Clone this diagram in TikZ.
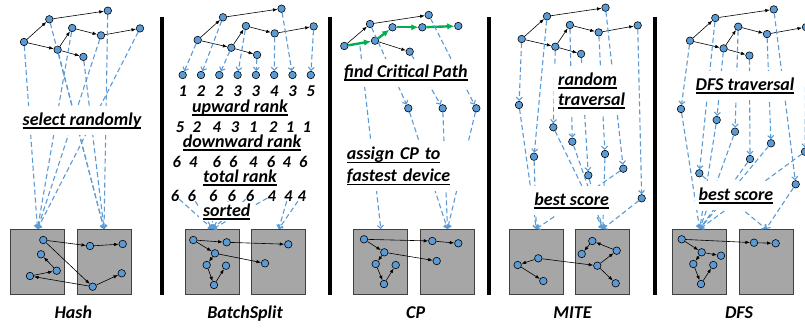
\documentclass[tikz,border=0pt]{standalone}
\usepackage{fontspec}
\setmainfont{Carlito}
\usepackage{tikz}
\usetikzlibrary{arrows.meta}
\definecolor{dotblue}{HTML}{5B9BD5}
\definecolor{cpgreen}{HTML}{00B050}
\definecolor{boxgray}{HTML}{A6A6A6}
\definecolor{boxline}{HTML}{404040}
\newcommand{\uln}[1]{\leavevmode\setbox0=\hbox{#1}\rlap{\rule[-3.5pt]{\wd0}{1.3pt}}\box0}
\tikzset{
  dot/.style={circle,draw=black,fill=dotblue,line width=0.6pt,minimum size=7.5pt,inner sep=0pt},
  edge/.style={-{Latex[length=4.5pt,width=3.5pt]},line width=0.6pt},
  cpedge/.style={-{Latex[length=7pt,width=6.5pt]},line width=2.4pt,cpgreen},
  move/.style={dotblue,line width=1.1pt,dash pattern=on 5pt off 3pt,-{Straight Barb[length=3pt,width=6pt]}},
  device/.style={draw=boxline,fill=boxgray,line width=1pt,minimum width=54pt,minimum height=65pt,inner sep=0pt},
  stagelabel/.style={font=\fontsize{18}{21.5}\selectfont\bfseries\itshape,fill=white,inner xsep=4pt,inner ysep=6pt,anchor=base},
  algname/.style={font=\fontsize{18}{21.5}\selectfont\bfseries\itshape,anchor=base},
  rank/.style={font=\fontsize{18}{21.5}\selectfont\bfseries\itshape,inner sep=0pt,anchor=base},
  digit/.style={font=\fontsize{16.5}{19}\selectfont\bfseries\itshape,inner sep=0pt,anchor=base},
  divider/.style={line width=4pt}
}

\begin{document}
\begin{tikzpicture}[x=1pt,y=-1pt]
                \clip (0,0) rectangle (805,329);
                %dividers
                \foreach \x in {161.5,329.5,489,654.7}
                    \draw[divider] (\x,17) -- (\x,295);
                %devices
                \foreach \d/\x in {HA/37.5,HB/104,BA/212.5,BB/278.7,CA/380.8,CB/447.5,MA/536.3,MB/602.8,DA/699.7,DB/766}
                    \node[device] (\d) at (\x,262) {};
                %task graphs
                \foreach \p/\gx/\gy in {H/24/42,B/197.7/40,M/521.7/39,D/690/40.7}{
                    \begin{scope}[shift={(\gx,\gy)}]
                        \foreach \n/\dx/\dy in {1/0/0,2/25.3/-22.7,3/83.8/-31.3,4/48.2/-14,5/77/-6.6,6/116/-13.6,7/33.6/7.7,8/59.4/14.9}
                            \node[dot] (\p\n) at (\dx,\dy) {};
                    \end{scope}
                    \foreach \a/\b in {1/2,2/3,1/7,7/4,7/8,4/5,5/6}
                        \draw[edge] (\p\a) -- (\p\b);
                }
                \foreach \n/\x/\y in {1/344.3/46,2/370/24,3/428.7/15,4/392.5/27.3,5/422.3/27.3,6/458.3/26,7/375/40.7,8/409.7/51.7}
                    \node[dot] (C\n) at (\x,\y) {};
                \draw[edge] (C1) -- (C2);
                \draw[edge] (C2) -- (C3);
                \draw[edge] (C7) -- (C8);
                \draw[cpedge] (C1) -- coordinate (cpm) (C7);
                \draw[cpedge] (C7) -- (C4);
                \draw[cpedge] (C4) -- (C5);
                \draw[cpedge] (C5) -- (C6);

                %Hash
                \foreach \n in {1,4,5,6}
                    \draw[move] (H\n) -- (HA.north);
                \foreach \n in {2,3,7,8}
                    \draw[move] (H\n) -- (HB.north);
                \node[stagelabel] (sel) at (82,125) {\uln{select randomly}};

                %BatchSplit
                \foreach \n/\x in {1/182.7,2/201,3/219.3,4/237.6,5/255.9,6/274.2,7/292.5,8/310.8}
                    \node[dot] (N\n) at (\x,75) {};
                \foreach \a/\b in {1/1,2/2,7/3,4/4,8/5,5/6,3/7,6/8}
                    \draw[move] (B\a) -- (N\b);
                \node[rank] (upl) at (240,112) {\uln{upward rank}};
                \node[rank] (dnl) at (242,147) {\uln{downward rank}};
                \node[rank] (totl) at (240,182) {\uln{total rank}};
                \foreach \x/\v [count=\i] in {182.7/1,201/2,219.3/2,237.6/3,255.9/3,274.2/4,292.5/3,310.8/5}
                    \node[digit] (up\i) at (\x,96.5) {\v};
                \foreach \x/\v [count=\i] in {180/5,196.7/2,216.7/4,235/3,253.3/1,273.3/2,290/1,306.7/1}
                    \node[digit] (dn\i) at (\x,132.5) {\v};
                \foreach \x/\v [count=\i] in {176.7/6,193.3/4,216.7/6,233.3/6,253.3/4,271/6,286.7/4,303.3/6}
                    \node[digit] (tot\i) at (\x,167) {\v};
                \foreach \x/\v [count=\i] in {175/6,191.7/6,213.3/6,231.7/6,250/6,271.7/4,288.3/4,301.7/4}
                    \node[digit] (srt\i) at (\x,201) {\v};
                \foreach \i in {1,...,6}
                    \draw[move] (srt\i) -- (BA.north);
                \foreach \i in {7,8}
                    \draw[move] (srt\i) -- (BB.north);
                \node[stagelabel,inner ysep=1pt] (srtl) at (226.7,216) {\uln{sorted}};

                %CP
                \foreach \n/\x in {1/408.3,2/442.7,3/476.3}
                    \node[dot] (S\n) at (\x,108.3) {};
                \draw[move] (C2) -- (S1);
                \draw[move] (C8) -- (S2);
                \draw[move] (C3) -- (S3);
                \draw[move,shorten <=3pt] (cpm) -- (CA.north);
                \foreach \n in {1,2,3}
                    \draw[move] (S\n) -- (CB.north);
                \node[stagelabel] (fcp) at (405.8,77.3) {\uln{find Critical Path}};
                \node[stagelabel,align=left,text width=122pt,anchor=base west] (asg) at (342.7,159.3) {\uln{assign CP to}};
                \node[stagelabel,align=left,text width=122pt,text height=8pt,anchor=base west] (fst) at (342.7,181.7) {\uln{fastest device}};

                %MITE
                \foreach \n/\x/\y in {1/519/105,2/553.3/127.3,3/572.3/141.7,4/534/156.7,5/605/154,6/623.3/168.7,7/588.3/175.3,8/641.7/198.3}
                    \node[dot] (rt\n) at (\x,\y) {};
                \foreach \a/\b in {1/1,2/4,7/2,4/3,8/7,5/5,3/6,6/8}
                    \draw[move] (M\a) -- (rt\b);
                \foreach \n in {1,4,6}
                    \draw[move] (rt\n) -- (MA.north);
                \foreach \n in {2,3,5,7,8}
                    \draw[move] (rt\n) -- (MB.north);
                \node[stagelabel,align=left,text width=68pt,anchor=base west] (rnd) at (554,85) {\uln{random}};
                \node[stagelabel,align=left,text width=68pt,text height=4pt,anchor=base west] (trv) at (554,105) {\uln{traversal}};
                \node[stagelabel] (bsm) at (571.7,205) {\uln{best score}};

                %DFS
                \foreach \n/\x/\y in {1/681/109,2/716.7/120,3/735/131.7,4/771/143.3,5/750/159,6/805/151.7,7/699.3/173.3,8/795.7/184.3}
                    \node[dot] (dt\n) at (\x,\y) {};
                \foreach \a/\b in {1/1,2/7,7/2,4/3,8/5,5/4,3/8,6/6}
                    \draw[move] (D\a) -- (dt\b);
                \foreach \n in {1,...,6}
                    \draw[move] (dt\n) -- (DA.north);
                \foreach \n in {7,8}
                    \draw[move] (dt\n) -- (DB.north);
                \node[stagelabel] (dfst) at (745,90) {\uln{DFS traversal}};
                \node[stagelabel] (bsd) at (736,200) {\uln{best score}};

                %placed graphs
                \foreach \n/\x/\y in {1/43.3/240,2/90/246,3/122.7/244,4/41/254.3,5/56.7/270.7,6/30/276,7/121.7/273.3,8/92.7/286.7}
                    \node[dot] (hd\n) at (\x,\y) {};
                \foreach \a/\b in {1/2,2/3,1/8,8/6,6/5,5/4,8/7}
                    \draw[edge] (hd\a) -- (hd\b);
                \foreach \n/\x/\y in {1/193.3/240,2/226.7/242.3,3/215/253.3,4/206.7/265,5/226/265.7,6/214/285,7/288.3/244.3,8/265/263.3}
                    \node[dot] (bd\n) at (\x,\y) {};
                \foreach \a/\b in {1/2,2/7,1/3,3/8,3/4,4/6,6/5}
                    \draw[edge] (bd\a) -- (bd\b);
                \foreach \n/\x/\y in {1/364/239.3,2/432.3/241,3/458.3/243.3,4/384.3/252.3,5/436.7/261,6/375.7/264,7/395.7/265,8/384/284}
                    \node[dot] (cd\n) at (\x,\y) {};
                \foreach \a/\b in {1/2,2/3,1/4,4/5,4/6,6/8,8/7}
                    \draw[edge] (cd\a) -- (cd\b);
                \foreach \n/\x/\y in {1/538.3/258.3,2/517.7/265,3/543.3/281,4/592.3/241,5/581.7/254,6/616.7/250.7,7/597.3/265.7,8/615.7/283.3}
                    \node[dot] (md\n) at (\x,\y) {};
                \foreach \a/\b in {1/2,2/3,1/7,7/6,6/4,4/5,7/8}
                    \draw[edge] (md\a) -- (md\b);
                \foreach \n/\x/\y in {1/681.7/239.3,2/754/242.7,3/775.7/243.3,4/701.7/252.3,5/721/255.7,6/693.3/264,7/713.3/265,8/701/284}
                    \node[dot] (dd\n) at (\x,\y) {};
                \foreach \a/\b in {1/2,2/3,1/4,4/5,4/6,6/8,8/7}
                    \draw[edge] (dd\a) -- (dd\b);

                %names
                \node[algname] (lhash) at (73.3,318.3) {Hash};
                \node[algname] (lbs) at (245,318.3) {BatchSplit};
                \node[algname] (lcp) at (415.7,318.3) {CP};
                \node[algname] (lmite) at (572.5,318.3) {MITE};
                \node[algname] (ldfs) at (739,318.3) {DFS};
\end{tikzpicture}
\end{document}
